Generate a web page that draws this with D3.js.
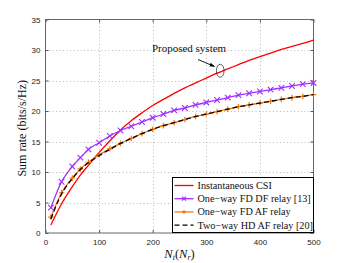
<!DOCTYPE html>
<html>
<head>
<meta charset="utf-8">
<script src="https://cdn.jsdelivr.net/npm/d3@7"></script>
<style>
  body { margin: 0; background: #fff; }
  .tick text { font-family: "Liberation Sans", Arial, sans-serif; font-size: 8px; fill: #222; }
</style>
</head>
<body>
<div id="chart"></div>
<script>
// Antenna counts (x) and sum rates
const nAnt = [10, 30, 50, 65, 80, 100, 120, 140, 160, 180, 200, 220, 240, 260, 280, 300, 320, 340, 360, 380, 400, 420, 440, 460, 480, 500];
const instCSI = [1.3, 4.8, 7.6, 9.5, 11.1, 13.2, 15.1, 16.9, 18.4, 19.7, 20.9, 21.9, 22.9, 23.8, 24.6, 25.4, 26.2, 26.9, 27.6, 28.3, 28.9, 29.5, 30.1, 30.6, 31.1, 31.6];
const fdDF = [4.15, 8.4, 10.9, 12.35, 13.7, 14.8, 15.9, 16.8, 17.5, 18.2, 18.9, 19.5, 20.1, 20.5, 21.0, 21.4, 21.8, 22.2, 22.6, 22.9, 23.2, 23.5, 23.8, 24.1, 24.4, 24.6];
const fdAF = [2.6, 6.6, 9.0, 10.5, 11.6, 12.8, 13.8, 14.7, 15.5, 16.3, 17.0, 17.6, 18.1, 18.6, 19.1, 19.5, 19.9, 20.3, 20.7, 21.0, 21.3, 21.6, 21.9, 22.2, 22.4, 22.7];
const hdAF = [2.3, 6.4, 8.9, 10.4, 11.5, 12.7, 13.7, 14.7, 15.5, 16.3, 17.0, 17.6, 18.1, 18.6, 19.1, 19.5, 19.9, 20.3, 20.7, 21.0, 21.3, 21.6, 21.9, 22.2, 22.4, 22.7];
const xTicks = [0, 100, 200, 300, 400, 500];
const yTicks = [0, 5, 10, 15, 20, 25, 30, 35];

const series = [
  { name: 'Instantaneous CSI', values: instCSI, color: '#ff0000', marker: null, dash: null },
  { name: 'One\u2212way FD DF relay [13]', values: fdDF, color: '#a030ff', marker: 'x', dash: null },
  { name: 'One\u2212way FD AF relay', values: fdAF, color: '#f07818', marker: '+', dash: null },
  { name: 'Two\u2212way HD AF relay [20]', values: hdAF, color: '#000000', marker: null, dash: '5,3' }
];

const width = 346, height = 263;
const plot = { left: 45.5, right: 313.5, top: 19.5, bottom: 233 };

const svg = d3.select('#chart').append('svg')
  .attr('width', width)
  .attr('height', height);

const x = d3.scaleLinear().domain([0, 500]).range([plot.left, plot.right]);
const y = d3.scaleLinear().domain([0, 35]).range([plot.bottom, plot.top]);

// dotted grid
svg.append('g').selectAll('line.gx')
  .data(xTicks.slice(1, -1)).enter().append('line')
  .attr('x1', d => Math.round(x(d)) + 0.5).attr('x2', d => Math.round(x(d)) + 0.5)
  .attr('y1', plot.top).attr('y2', plot.bottom)
  .attr('stroke', '#aaa').attr('stroke-width', 0.8).attr('stroke-dasharray', '1,2.5');
svg.append('g').selectAll('line.gy')
  .data(yTicks.slice(1, -1)).enter().append('line')
  .attr('y1', d => Math.round(y(d)) + 0.5).attr('y2', d => Math.round(y(d)) + 0.5)
  .attr('x1', plot.left).attr('x2', plot.right)
  .attr('stroke', '#aaa').attr('stroke-width', 0.8).attr('stroke-dasharray', '1,2.5');

// axes (ticks inside, like matlab)
const xAxis = d3.axisBottom(x).tickValues(xTicks).tickSize(-3).tickPadding(6);
const yAxis = d3.axisLeft(y).tickValues(yTicks).tickSize(-3).tickPadding(5);
svg.append('g').attr('transform', `translate(0,${plot.bottom})`).call(xAxis)
  .call(g => g.select('.domain').remove())
  .call(g => g.selectAll('.tick line').attr('stroke', '#555'));
svg.append('g').attr('transform', `translate(${plot.left},0)`).call(yAxis)
  .call(g => g.select('.domain').remove())
  .call(g => g.selectAll('.tick line').attr('stroke', '#555'));
svg.append('g').attr('transform', `translate(0,${plot.top})`)
  .call(d3.axisTop(x).tickValues(xTicks).tickSize(-3).tickFormat(''))
  .call(g => g.select('.domain').remove())
  .call(g => g.selectAll('.tick line').attr('stroke', '#555'));
svg.append('g').attr('transform', `translate(${plot.right},0)`)
  .call(d3.axisRight(y).tickValues(yTicks).tickSize(-3).tickFormat(''))
  .call(g => g.select('.domain').remove())
  .call(g => g.selectAll('.tick line').attr('stroke', '#555'));

svg.append('rect')
  .attr('x', plot.left).attr('y', plot.top)
  .attr('width', plot.right - plot.left).attr('height', plot.bottom - plot.top)
  .attr('fill', 'none').attr('stroke', '#666').attr('stroke-width', 1);

// curves
const line = d3.line()
  .x((d, i) => x(nAnt[i]))
  .y(d => y(d))
  .curve(d3.curveMonotoneX);

function drawMarker(g, type, cx, cy, color, s) {
  if (type === 'x') {
    g.append('path')
      .attr('d', `M${cx - s},${cy - s}L${cx + s},${cy + s}M${cx - s},${cy + s}L${cx + s},${cy - s}`)
      .attr('stroke', color).attr('stroke-width', 1.1).attr('fill', 'none');
  } else if (type === '+') {
    g.append('path')
      .attr('d', `M${cx - s},${cy}L${cx + s},${cy}M${cx},${cy - s}L${cx},${cy + s}`)
      .attr('stroke', color).attr('stroke-width', 1.2).attr('fill', 'none');
  }
}

const curves = svg.append('g');
series.forEach(s => {
  curves.append('path')
    .datum(s.values)
    .attr('d', line)
    .attr('fill', 'none')
    .attr('stroke', s.color)
    .attr('stroke-width', 1.3)
    .attr('stroke-dasharray', s.dash);
  if (s.marker) {
    const mg = curves.append('g');
    s.values.forEach((v, i) => drawMarker(mg, s.marker, x(nAnt[i]), y(v), s.color, 2.8));
  }
});

// annotation: "Proposed system"
svg.append('text')
  .attr('x', 189).attr('y', 52)
  .attr('text-anchor', 'middle')
  .attr('font-family', '"Liberation Serif", "Times New Roman", serif')
  .attr('font-size', 11)
  .attr('fill', '#111')
  .text('Proposed system');
svg.append('defs').append('marker')
  .attr('id', 'arrowhead')
  .attr('viewBox', '0 0 10 10')
  .attr('refX', 9).attr('refY', 5)
  .attr('markerWidth', 6).attr('markerHeight', 6)
  .attr('orient', 'auto')
  .append('path').attr('d', 'M0,1.5L10,5L0,8.5Z').attr('fill', '#000');
svg.append('line')
  .attr('x1', 198).attr('y1', 59.5)
  .attr('x2', 214.5).attr('y2', 66.5)
  .attr('stroke', '#000').attr('stroke-width', 0.9)
  .attr('marker-end', 'url(#arrowhead)');
svg.append('ellipse')
  .attr('cx', x(326)).attr('cy', y(26.6))
  .attr('rx', 3.8).attr('ry', 6.5)
  .attr('fill', 'none').attr('stroke', '#333').attr('stroke-width', 0.8);

// axis titles
svg.append('text')
  .attr('transform', `translate(26,${(plot.top + plot.bottom) / 2 + 2}) rotate(-90)`)
  .attr('text-anchor', 'middle')
  .attr('font-family', '"Liberation Serif", "Times New Roman", serif')
  .attr('font-size', 12)
  .attr('fill', '#111')
  .text('Sum rate (bits/s/Hz)');

const xl = svg.append('text')
  .attr('x', (plot.left + plot.right) / 2).attr('y', 258)
  .attr('text-anchor', 'middle')
  .attr('font-family', '"Liberation Serif", "Times New Roman", serif')
  .attr('font-size', 12.5)
  .attr('fill', '#111');
xl.append('tspan').attr('font-style', 'italic').text('N');
xl.append('tspan').attr('font-style', 'italic').attr('font-size', 8).attr('dy', 2).text('t');
xl.append('tspan').attr('dy', -2).text('(');
xl.append('tspan').attr('font-style', 'italic').text('N');
xl.append('tspan').attr('font-style', 'italic').attr('font-size', 8).attr('dy', 2).text('r');
xl.append('tspan').attr('dy', -2).text(')');

// legend
const leg = { x: 172.5, y: 177.5, w: 141, h: 55, row: 13.2 };
const lg = svg.append('g');
lg.append('rect')
  .attr('x', leg.x).attr('y', leg.y).attr('width', leg.w).attr('height', leg.h)
  .attr('fill', '#fff').attr('stroke', '#000').attr('stroke-width', 1);
series.forEach((s, i) => {
  const yy = leg.y + 8 + i * leg.row;
  lg.append('line')
    .attr('x1', leg.x + 2).attr('x2', leg.x + 21)
    .attr('y1', yy).attr('y2', yy)
    .attr('stroke', s.color).attr('stroke-width', 1.3)
    .attr('stroke-dasharray', s.dash);
  if (s.marker) drawMarker(lg, s.marker, leg.x + 11.5, yy, s.color, 2);
  lg.append('text')
    .attr('x', leg.x + 25).attr('y', yy + 3.5)
    .attr('font-family', '"Liberation Serif", "Times New Roman", serif')
    .attr('font-size', 10.2)
    .attr('fill', '#111')
    .text(s.name);
});
</script>
</body>
</html>
